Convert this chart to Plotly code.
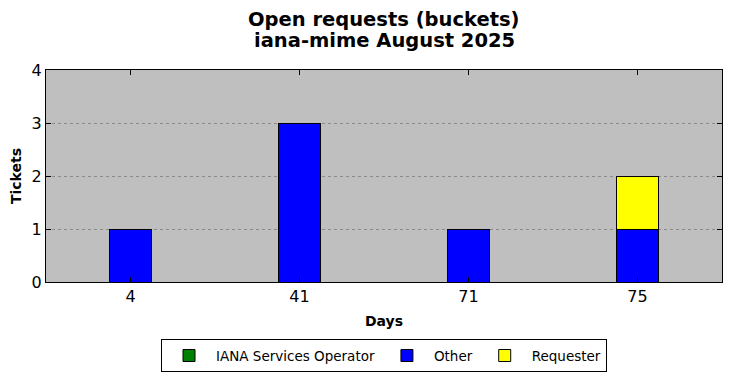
import plotly.graph_objects as go

days = ["4", "41", "71", "75"]
iana_ops = [0, 0, 0, 0]
other = [1, 3, 1, 1]
requester = [0, 0, 0, 1]
title_lines = ["Open requests (buckets)", "iana-mime August 2025"]

series = [
    ("IANA Services Operator", iana_ops, "#008000"),
    ("Other", other, "#0000ff"),
    ("Requester", requester, "#ffff00"),
]

fig = go.Figure()
for name, vals, color in series:
    fig.add_trace(go.Bar(
        x=days, y=vals, name=name, width=0.25,
        marker=dict(color=color, line=dict(color="black", width=1)),
    ))

font = "DejaVu Sans"
fig.update_layout(
    barmode="stack",
    width=732, height=378,
    margin=dict(l=46, r=10, t=70, b=96, autoexpand=False),
    paper_bgcolor="white",
    plot_bgcolor="#bfbfbf",
    font=dict(family=font, color="black"),
    legend=dict(
        orientation="h", x=0.5, xanchor="center", xref="paper",
        y=-0.27, yanchor="top",
        bordercolor="black", borderwidth=1,
        font=dict(size=13.5, family=font),
        traceorder="normal", itemwidth=44,
    ),
    showlegend=True,
)
for i, line in enumerate(title_lines):
    fig.add_annotation(
        text="<b>%s</b>" % line, xref="paper", yref="paper",
        x=0.5, xanchor="center",
        y=1 + (51 - 22 * i) / 212, yanchor="middle",
        showarrow=False, font=dict(size=19.5, family=font),
    )
fig.update_xaxes(
    type="category", range=[-0.5, 3.5], automargin=False,
    showline=True, linecolor="black", linewidth=1, mirror="ticks",
    ticks="inside", ticklen=5, tickcolor="black",
    tickfont=dict(size=16, family=font),
    showgrid=False, zeroline=False,
    title=dict(text="<b>Days</b>", font=dict(size=14, family=font), standoff=10),
)
fig.update_yaxes(
    range=[0, 4], dtick=1, automargin=False,
    showline=True, linecolor="black", linewidth=1, mirror="ticks",
    ticks="inside", ticklen=5, tickcolor="black",
    tickfont=dict(size=16, family=font),
    showgrid=True, gridcolor="#8a8a8a", griddash="dot", gridwidth=1,
    zeroline=False,
    title=dict(text="<b>Tickets</b>", font=dict(size=14, family=font), standoff=6),
)

fig.write_html("out.html")
